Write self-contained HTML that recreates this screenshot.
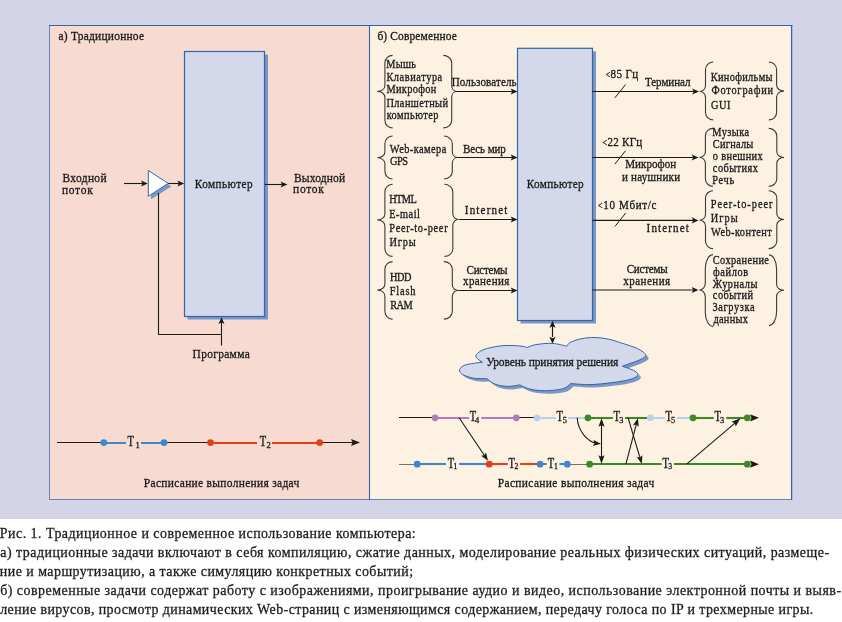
<!DOCTYPE html>
<html><head><meta charset="utf-8"><style>
html,body{margin:0;padding:0;background:#fff;}
svg{display:block;will-change:transform;}
text{font-family:"Liberation Serif",serif;}
</style></head><body>
<svg width="842" height="622" viewBox="0 0 842 622">
<rect x="0" y="0" width="842" height="519" fill="#d3d4e7"/>
<rect x="0" y="519" width="842" height="103" fill="#ffffff"/>
<rect x="49.5" y="25.5" width="320" height="474" fill="#f7dbd0"/>
<rect x="369.5" y="25.5" width="422" height="474" fill="#fdf2e1"/>
<line x1="49.5" y1="25" x2="49.5" y2="500" stroke="#6a84b4" stroke-width="1"/>
<line x1="49" y1="499.5" x2="792" y2="499.5" stroke="#6a84b4" stroke-width="1"/>
<line x1="49" y1="25.5" x2="792.5" y2="25.5" stroke="#3167a6" stroke-width="1.1"/>
<line x1="369.5" y1="25" x2="369.5" y2="500" stroke="#3167a6" stroke-width="1.1"/>
<line x1="791.6" y1="25" x2="791.6" y2="500" stroke="#3167a6" stroke-width="1.3"/>
<text id="t0" transform="scale(0.85,1)" x="68.84" y="39.8" font-size="13.5" fill="#1a1a1a" stroke="#1a1a1a" stroke-width="0.32" textLength="100.66" lengthAdjust="spacing" text-anchor="start">а) Традиционное</text>
<rect x="187.5" y="54.5" width="80.5" height="265" fill="#7b97c6"/>
<rect x="184.5" y="51.5" width="80" height="265" fill="#d3d8eb" stroke="#3167a6" stroke-width="1.2"/>
<text id="t1" transform="scale(0.85,1)" x="229.22" y="187.8" font-size="13.2" fill="#1a1a1a" stroke="#1a1a1a" stroke-width="0.32" textLength="67.99" lengthAdjust="spacing" text-anchor="start">Компьютер</text>
<text id="t2" transform="scale(0.85,1)" x="73.55" y="182" font-size="13.5" fill="#1a1a1a" stroke="#1a1a1a" stroke-width="0.32" textLength="51.85" lengthAdjust="spacing" text-anchor="start">Входной</text>
<text id="t3" transform="scale(0.85,1)" x="72.81" y="194" font-size="13.5" fill="#1a1a1a" stroke="#1a1a1a" stroke-width="0.32" textLength="36.26" lengthAdjust="spacing" text-anchor="start">поток</text>
<text id="t4" transform="scale(0.85,1)" x="345.82" y="181.6" font-size="13.5" fill="#1a1a1a" stroke="#1a1a1a" stroke-width="0.32" textLength="60.29" lengthAdjust="spacing" text-anchor="start">Выходной</text>
<text id="t5" transform="scale(0.85,1)" x="344.80" y="193.5" font-size="13.5" fill="#1a1a1a" stroke="#1a1a1a" stroke-width="0.32" textLength="36.06" lengthAdjust="spacing" text-anchor="start">поток</text>
<line x1="124" y1="183.5" x2="143.72" y2="183.5" stroke="#1a1a1a" stroke-width="1.1"/>
<path d="M147.80,183.50 L141.00,186.60 L142.50,183.50 L141.00,180.40 Z" fill="#1a1a1a"/>
<path d="M151,173.3 L171.4,186.4 L151,199.2 Z" fill="#7b97c6"/>
<path d="M148.3,170.4 L168.2,183.4 L148.3,196.3 Z" fill="#ffffff" stroke="#3167a6" stroke-width="1"/>
<line x1="168.2" y1="183.5" x2="180.11999999999998" y2="183.5" stroke="#1a1a1a" stroke-width="1.1"/>
<path d="M184.20,183.50 L177.40,186.60 L178.90,183.50 L177.40,180.40 Z" fill="#1a1a1a"/>
<line x1="265" y1="184.5" x2="283.32" y2="184.5" stroke="#1a1a1a" stroke-width="1.1"/>
<path d="M287.40,184.50 L280.60,187.60 L282.10,184.50 L280.60,181.40 Z" fill="#1a1a1a"/>
<line x1="158.5" y1="193" x2="158.5" y2="335" stroke="#1a1a1a" stroke-width="1.1"/>
<line x1="158" y1="334.5" x2="222" y2="334.5" stroke="#1a1a1a" stroke-width="1.1"/>
<line x1="221.5" y1="345.5" x2="221.5" y2="322" stroke="#1a1a1a" stroke-width="1.1"/>
<path d="M221.50,317.30 L224.50,324.10 L221.50,322.60 L218.50,324.10 Z" fill="#1a1a1a"/>
<text id="t6" transform="scale(0.85,1)" x="226.54" y="357.8" font-size="13.5" fill="#1a1a1a" stroke="#1a1a1a" stroke-width="0.32" textLength="67.26" lengthAdjust="spacing" text-anchor="start">Программа</text>
<line x1="57" y1="442.5" x2="104" y2="442.5" stroke="#1a1a1a" stroke-width="1.05"/>
<line x1="104" y1="443" x2="126" y2="443" stroke="#3f87c9" stroke-width="2"/>
<line x1="141" y1="443" x2="164" y2="443" stroke="#3f87c9" stroke-width="2"/>
<line x1="164" y1="442.5" x2="210.5" y2="442.5" stroke="#1a1a1a" stroke-width="1.05"/>
<line x1="210.5" y1="443" x2="257" y2="443" stroke="#e2401d" stroke-width="2"/>
<line x1="272.1" y1="443" x2="319.7" y2="443" stroke="#e2401d" stroke-width="2"/>
<line x1="319.7" y1="442.5" x2="353" y2="442.5" stroke="#1a1a1a" stroke-width="1.05"/>
<path d="M360.00,442.50 L351.00,445.90 L352.50,442.50 L351.00,439.10 Z" fill="#1a1a1a"/>
<circle cx="103.8" cy="442.6" r="3.4" fill="#3f87c9"/>
<circle cx="164" cy="442.6" r="3.4" fill="#3f87c9"/>
<circle cx="210.5" cy="442.6" r="3.4" fill="#e2401d"/>
<circle cx="319.7" cy="442.6" r="3.4" fill="#e2401d"/>
<text x="127.60000000000001" y="445.9" font-size="13.6" fill="#1a1a1a" stroke="#1a1a1a" stroke-width="0.4" textLength="6.4" lengthAdjust="spacingAndGlyphs">T</text><text x="135.4" y="448" font-size="8.6" fill="#1a1a1a" stroke="#1a1a1a" stroke-width="0.3">1</text>
<text x="259.7" y="445.9" font-size="13.6" fill="#1a1a1a" stroke="#1a1a1a" stroke-width="0.4" textLength="6.4" lengthAdjust="spacingAndGlyphs">T</text><text x="266.6" y="448" font-size="8.6" fill="#1a1a1a" stroke="#1a1a1a" stroke-width="0.3">2</text>
<text id="t7" transform="scale(0.85,1)" x="169.22" y="487.1" font-size="13.5" fill="#1a1a1a" stroke="#1a1a1a" stroke-width="0.32" textLength="182.92" lengthAdjust="spacing" text-anchor="start">Расписание выполнения задач</text>
<text id="t8" transform="scale(0.85,1)" x="444.01" y="39.8" font-size="13.5" fill="#1a1a1a" stroke="#1a1a1a" stroke-width="0.32" textLength="93.42" lengthAdjust="spacing" text-anchor="start">б) Современное</text>
<rect x="520.5" y="51.3" width="75.5" height="272.2" fill="#7b97c6"/>
<rect x="517.5" y="48.3" width="75" height="272.2" fill="#d3d8eb" stroke="#3167a6" stroke-width="1.2"/>
<text id="t9" transform="scale(0.85,1)" x="619.69" y="187.8" font-size="13.2" fill="#1a1a1a" stroke="#1a1a1a" stroke-width="0.32" textLength="66.93" lengthAdjust="spacing" text-anchor="start">Компьютер</text>
<path d="M392.59999999999997,55.4 C388.75,55.4 384.9,58.40 384.9,62.9 L384.9,85.4 C384.9,89.30 381.15,91.4 377.4,91.4 C381.15,91.4 384.9,93.50 384.9,97.4 L384.9,120.4 C384.9,124.90 388.75,127.9 392.59999999999997,127.9" fill="none" stroke="#3a3a3a" stroke-width="1.1"/>
<path d="M443.3,55.4 C447.50,55.4 451.7,58.40 451.7,62.9 L451.7,85.5 C451.7,89.40 454.25,91.5 456.8,91.5 C454.25,91.5 451.7,93.60 451.7,97.5 L451.7,120.4 C451.7,124.90 447.50,127.9 443.3,127.9" fill="none" stroke="#3a3a3a" stroke-width="1.1"/>
<text id="t10" transform="scale(0.85,1)" x="454.46" y="67.6" font-size="12.2" fill="#1a1a1a" stroke="#1a1a1a" stroke-width="0.32" textLength="34.91" lengthAdjust="spacing" text-anchor="start">Мышь</text>
<text id="t11" transform="scale(0.85,1)" x="454.60" y="80.6" font-size="12.2" fill="#1a1a1a" stroke="#1a1a1a" stroke-width="0.32" textLength="65.67" lengthAdjust="spacing" text-anchor="start">Клавиатура</text>
<text id="t12" transform="scale(0.85,1)" x="454.62" y="93.5" font-size="12.2" fill="#1a1a1a" stroke="#1a1a1a" stroke-width="0.32" textLength="58.75" lengthAdjust="spacing" text-anchor="start">Микрофон</text>
<text id="t13" transform="scale(0.85,1)" x="454.59" y="106.8" font-size="12.2" fill="#1a1a1a" stroke="#1a1a1a" stroke-width="0.32" textLength="72.53" lengthAdjust="spacing" text-anchor="start">Планшетный</text>
<text id="t14" transform="scale(0.85,1)" x="454.94" y="118.6" font-size="12.2" fill="#1a1a1a" stroke="#1a1a1a" stroke-width="0.32" textLength="60.81" lengthAdjust="spacing" text-anchor="start">компьютер</text>
<text id="t15" transform="scale(0.85,1)" x="531.51" y="85.7" font-size="13" fill="#1a1a1a" stroke="#1a1a1a" stroke-width="0.32" textLength="76.24" lengthAdjust="spacing" text-anchor="start">Пользователь</text>
<line x1="456" y1="91.5" x2="513.42" y2="91.5" stroke="#1a1a1a" stroke-width="1.05"/>
<path d="M517.50,91.50 L510.70,94.60 L512.20,91.50 L510.70,88.40 Z" fill="#1a1a1a"/>
<path d="M392.59999999999997,136 C388.75,136 384.9,139.00 384.9,143.5 L384.9,151.8 C384.9,155.70 381.15,157.8 377.4,157.8 C381.15,157.8 384.9,159.90 384.9,163.8 L384.9,171.5 C384.9,176.00 388.75,179 392.59999999999997,179" fill="none" stroke="#3a3a3a" stroke-width="1.1"/>
<path d="M443.90000000000003,136 C448.10,136 452.3,139.00 452.3,143.5 L452.3,151.5 C452.3,155.40 454.90,157.5 457.5,157.5 C454.90,157.5 452.3,159.60 452.3,163.5 L452.3,171.5 C452.3,176.00 448.10,179 443.90000000000003,179" fill="none" stroke="#3a3a3a" stroke-width="1.1"/>
<text id="t16" transform="scale(0.85,1)" x="458.66" y="153.5" font-size="12.2" fill="#1a1a1a" stroke="#1a1a1a" stroke-width="0.32" textLength="66.36" lengthAdjust="spacing" text-anchor="start">Web-камера</text>
<text id="t17" transform="scale(0.85,1)" x="458.74" y="165.3" font-size="12.2" fill="#1a1a1a" stroke="#1a1a1a" stroke-width="0.32" textLength="21.34" lengthAdjust="spacing" text-anchor="start">GPS</text>
<text id="t18" transform="scale(0.85,1)" x="544.73" y="152.8" font-size="13" fill="#1a1a1a" stroke="#1a1a1a" stroke-width="0.32" textLength="50.39" lengthAdjust="spacing" text-anchor="start">Весь мир</text>
<line x1="457.3" y1="157.5" x2="513.42" y2="157.5" stroke="#1a1a1a" stroke-width="1.05"/>
<path d="M517.50,157.50 L510.70,160.60 L512.20,157.50 L510.70,154.40 Z" fill="#1a1a1a"/>
<path d="M392.59999999999997,184.3 C388.75,184.3 384.9,187.30 384.9,191.8 L384.9,213.9 C384.9,217.80 381.15,219.9 377.4,219.9 C381.15,219.9 384.9,222.00 384.9,225.9 L384.9,248.89999999999998 C384.9,253.40 388.75,256.4 392.59999999999997,256.4" fill="none" stroke="#3a3a3a" stroke-width="1.1"/>
<path d="M444.40000000000003,184.3 C448.60,184.3 452.8,187.30 452.8,191.8 L452.8,213.5 C452.8,217.40 455.65,219.5 458.5,219.5 C455.65,219.5 452.8,221.60 452.8,225.5 L452.8,248.89999999999998 C452.8,253.40 448.60,256.4 444.40000000000003,256.4" fill="none" stroke="#3a3a3a" stroke-width="1.1"/>
<text id="t19" transform="scale(0.85,1)" x="457.99" y="203.5" font-size="12.2" fill="#1a1a1a" stroke="#1a1a1a" stroke-width="0.32" textLength="32.28" lengthAdjust="spacing" text-anchor="start">HTML</text>
<text id="t20" transform="scale(0.85,1)" x="457.99" y="217.7" font-size="12.2" fill="#1a1a1a" stroke="#1a1a1a" stroke-width="0.32" textLength="36.01" lengthAdjust="spacing" text-anchor="start">E-mail</text>
<text id="t21" transform="scale(0.85,1)" x="457.99" y="231.6" font-size="12.2" fill="#1a1a1a" stroke="#1a1a1a" stroke-width="0.32" textLength="68.60" lengthAdjust="spacing" text-anchor="start">Peer-to-peer</text>
<text id="t22" transform="scale(0.85,1)" x="458.14" y="245.6" font-size="12.2" fill="#1a1a1a" stroke="#1a1a1a" stroke-width="0.32" textLength="31.05" lengthAdjust="spacing" text-anchor="start">Игры</text>
<text id="t23" transform="scale(0.85,1)" x="546.81" y="214.5" font-size="13" fill="#1a1a1a" stroke="#1a1a1a" stroke-width="0.32" textLength="50.16" lengthAdjust="spacing" text-anchor="start">Internet</text>
<line x1="459" y1="219.5" x2="513.42" y2="219.5" stroke="#1a1a1a" stroke-width="1.05"/>
<path d="M517.50,219.50 L510.70,222.60 L512.20,219.50 L510.70,216.40 Z" fill="#1a1a1a"/>
<path d="M392.59999999999997,261.6 C388.75,261.6 384.9,264.60 384.9,269.1 L384.9,284.1 C384.9,288.00 381.15,290.1 377.4,290.1 C381.15,290.1 384.9,292.20 384.9,296.1 L384.9,311.6 C384.9,316.10 388.75,319.1 392.59999999999997,319.1" fill="none" stroke="#3a3a3a" stroke-width="1.1"/>
<path d="M443.90000000000003,261.6 C448.10,261.6 452.3,264.60 452.3,269.1 L452.3,284.5 C452.3,288.40 455.25,290.5 458.2,290.5 C455.25,290.5 452.3,292.60 452.3,296.5 L452.3,311.6 C452.3,316.10 448.10,319.1 443.90000000000003,319.1" fill="none" stroke="#3a3a3a" stroke-width="1.1"/>
<text id="t24" transform="scale(0.85,1)" x="458.85" y="280.7" font-size="12.2" fill="#1a1a1a" stroke="#1a1a1a" stroke-width="0.32" textLength="25.26" lengthAdjust="spacing" text-anchor="start">HDD</text>
<text id="t25" transform="scale(0.85,1)" x="458.61" y="294.6" font-size="12.2" fill="#1a1a1a" stroke="#1a1a1a" stroke-width="0.32" textLength="30.15" lengthAdjust="spacing" text-anchor="start">Flash</text>
<text id="t26" transform="scale(0.85,1)" x="459.05" y="308.7" font-size="12.2" fill="#1a1a1a" stroke="#1a1a1a" stroke-width="0.32" textLength="26.56" lengthAdjust="spacing" text-anchor="start">RAM</text>
<text id="t27" transform="scale(0.85,1)" x="548.85" y="273.7" font-size="13" fill="#1a1a1a" stroke="#1a1a1a" stroke-width="0.32" textLength="48.13" lengthAdjust="spacing" text-anchor="start">Системы</text>
<text id="t28" transform="scale(0.85,1)" x="544.68" y="285.3" font-size="13" fill="#1a1a1a" stroke="#1a1a1a" stroke-width="0.32" textLength="54.51" lengthAdjust="spacing" text-anchor="start">хранения</text>
<line x1="458.2" y1="290.5" x2="513.42" y2="290.5" stroke="#1a1a1a" stroke-width="1.05"/>
<path d="M517.50,290.50 L510.70,293.60 L512.20,290.50 L510.70,287.40 Z" fill="#1a1a1a"/>
<line x1="592.5" y1="91.5" x2="694.92" y2="91.5" stroke="#1a1a1a" stroke-width="1.05"/>
<path d="M699.00,91.50 L692.20,94.60 L693.70,91.50 L692.20,88.40 Z" fill="#1a1a1a"/>
<line x1="614.9" y1="97.8" x2="625.6" y2="84.5" stroke="#1a1a1a" stroke-width="1"/>
<text id="t29" transform="scale(0.85,1)" x="712.61" y="78.5" font-size="13" fill="#1a1a1a" stroke="#1a1a1a" stroke-width="0.32" textLength="38.07" lengthAdjust="spacing" text-anchor="start"><tspan font-size="9.5">&lt;</tspan>85 Гц</text>
<text id="t30" transform="scale(0.85,1)" x="758.81" y="85.7" font-size="13" fill="#1a1a1a" stroke="#1a1a1a" stroke-width="0.32" textLength="53.61" lengthAdjust="spacing" text-anchor="start">Терминал</text>
<line x1="592.5" y1="157.5" x2="694.42" y2="157.5" stroke="#1a1a1a" stroke-width="1.05"/>
<path d="M698.50,157.50 L691.70,160.60 L693.20,157.50 L691.70,154.40 Z" fill="#1a1a1a"/>
<line x1="614.9" y1="164.0" x2="625.6" y2="150.7" stroke="#1a1a1a" stroke-width="1"/>
<text id="t31" transform="scale(0.85,1)" x="708.94" y="145.9" font-size="13" fill="#1a1a1a" stroke="#1a1a1a" stroke-width="0.32" textLength="46.64" lengthAdjust="spacing" text-anchor="start"><tspan font-size="9.5">&lt;</tspan>22 КГц</text>
<text id="t32" transform="scale(0.85,1)" x="735.60" y="168.5" font-size="13" fill="#1a1a1a" stroke="#1a1a1a" stroke-width="0.32" textLength="59.82" lengthAdjust="spacing" text-anchor="start">Микрофон</text>
<text id="t33" transform="scale(0.85,1)" x="731.66" y="180.6" font-size="13" fill="#1a1a1a" stroke="#1a1a1a" stroke-width="0.32" textLength="68.42" lengthAdjust="spacing" text-anchor="start">и наушники</text>
<line x1="592.5" y1="220.4" x2="694.42" y2="220.4" stroke="#1a1a1a" stroke-width="1.1"/>
<path d="M698.50,220.40 L691.70,223.50 L693.20,220.40 L691.70,217.30 Z" fill="#1a1a1a"/>
<line x1="614.9" y1="226.5" x2="625.6" y2="213.2" stroke="#1a1a1a" stroke-width="1"/>
<text id="t34" transform="scale(0.85,1)" x="703.60" y="209.5" font-size="13" fill="#1a1a1a" stroke="#1a1a1a" stroke-width="0.32" textLength="68.65" lengthAdjust="spacing" text-anchor="start"><tspan font-size="9.5">&lt;</tspan>10 Мбит/с</text>
<text id="t35" transform="scale(0.85,1)" x="760.71" y="232.5" font-size="13" fill="#1a1a1a" stroke="#1a1a1a" stroke-width="0.32" textLength="49.74" lengthAdjust="spacing" text-anchor="start">Internet</text>
<line x1="592.5" y1="290" x2="694.42" y2="290.0" stroke="#1a1a1a" stroke-width="1.05"/>
<path d="M698.50,290.00 L691.70,293.10 L693.20,290.00 L691.70,286.90 Z" fill="#1a1a1a"/>
<text id="t36" transform="scale(0.85,1)" x="737.31" y="272.8" font-size="13" fill="#1a1a1a" stroke="#1a1a1a" stroke-width="0.32" textLength="48.09" lengthAdjust="spacing" text-anchor="start">Системы</text>
<text id="t37" transform="scale(0.85,1)" x="733.25" y="284.6" font-size="13" fill="#1a1a1a" stroke="#1a1a1a" stroke-width="0.32" textLength="55.16" lengthAdjust="spacing" text-anchor="start">хранения</text>
<path d="M713.2,62 C709.35,62 705.5,65.00 705.5,69.5 L705.5,85.5 C705.5,89.40 702.60,91.5 699.7,91.5 C702.60,91.5 705.5,93.60 705.5,97.5 L705.5,112.4 C705.5,116.90 709.35,119.9 713.2,119.9" fill="none" stroke="#3a3a3a" stroke-width="1.1"/>
<path d="M768.8,62 C772.70,62 776.6,65.00 776.6,69.5 L776.6,85.1 C776.6,89.00 780.30,91.1 784,91.1 C780.30,91.1 776.6,93.20 776.6,97.1 L776.6,112.4 C776.6,116.90 772.70,119.9 768.8,119.9" fill="none" stroke="#3a3a3a" stroke-width="1.1"/>
<text id="t38" transform="scale(0.85,1)" x="836.13" y="80.6" font-size="12.2" fill="#1a1a1a" stroke="#1a1a1a" stroke-width="0.32" textLength="72.71" lengthAdjust="spacing" text-anchor="start">Кинофильмы</text>
<text id="t39" transform="scale(0.85,1)" x="836.98" y="94.4" font-size="12.2" fill="#1a1a1a" stroke="#1a1a1a" stroke-width="0.32" textLength="72.56" lengthAdjust="spacing" text-anchor="start">Фотографии</text>
<text id="t40" transform="scale(0.85,1)" x="836.61" y="109.1" font-size="12.2" fill="#1a1a1a" stroke="#1a1a1a" stroke-width="0.32" textLength="22.68" lengthAdjust="spacing" text-anchor="start">GUI</text>
<path d="M713,128.4 C709.20,128.4 705.4,131.40 705.4,135.9 L705.4,151.5 C705.4,155.40 702.45,157.5 699.5,157.5 C702.45,157.5 705.4,159.60 705.4,163.5 L705.4,178.8 C705.4,183.30 709.20,186.3 713,186.3" fill="none" stroke="#3a3a3a" stroke-width="1.1"/>
<path d="M768.7,128.4 C772.75,128.4 776.8,131.40 776.8,135.9 L776.8,151.5 C776.8,155.40 780.40,157.5 784,157.5 C780.40,157.5 776.8,159.60 776.8,163.5 L776.8,178.8 C776.8,183.30 772.75,186.3 768.7,186.3" fill="none" stroke="#3a3a3a" stroke-width="1.1"/>
<text id="t41" transform="scale(0.85,1)" x="838.05" y="136.5" font-size="12.2" fill="#1a1a1a" stroke="#1a1a1a" stroke-width="0.32" textLength="43.15" lengthAdjust="spacing" text-anchor="start">Музыка</text>
<text id="t42" transform="scale(0.85,1)" x="838.62" y="148.5" font-size="12.2" fill="#1a1a1a" stroke="#1a1a1a" stroke-width="0.32" textLength="47.66" lengthAdjust="spacing" text-anchor="start">Сигналы</text>
<text id="t43" transform="scale(0.85,1)" x="838.56" y="160.5" font-size="12.2" fill="#1a1a1a" stroke="#1a1a1a" stroke-width="0.32" textLength="58.71" lengthAdjust="spacing" text-anchor="start">о внешних</text>
<text id="t44" transform="scale(0.85,1)" x="838.64" y="172.5" font-size="12.2" fill="#1a1a1a" stroke="#1a1a1a" stroke-width="0.32" textLength="53.09" lengthAdjust="spacing" text-anchor="start">событиях</text>
<text id="t45" transform="scale(0.85,1)" x="838.02" y="184.3" font-size="12.2" fill="#1a1a1a" stroke="#1a1a1a" stroke-width="0.32" textLength="25.67" lengthAdjust="spacing" text-anchor="start">Речь</text>
<path d="M713,190.7 C709.25,190.7 705.5,193.70 705.5,198.2 L705.5,214.2 C705.5,218.10 702.55,220.2 699.6,220.2 C702.55,220.2 705.5,222.30 705.5,226.2 L705.5,241.1 C705.5,245.60 709.25,248.6 713,248.6" fill="none" stroke="#3a3a3a" stroke-width="1.1"/>
<path d="M768.7,190.7 C772.75,190.7 776.8,193.70 776.8,198.2 L776.8,213.5 C776.8,217.40 780.40,219.5 784,219.5 C780.40,219.5 776.8,221.60 776.8,225.5 L776.8,241.1 C776.8,245.60 772.75,248.6 768.7,248.6" fill="none" stroke="#3a3a3a" stroke-width="1.1"/>
<text id="t46" transform="scale(0.85,1)" x="836.26" y="208.3" font-size="12.2" fill="#1a1a1a" stroke="#1a1a1a" stroke-width="0.32" textLength="72.61" lengthAdjust="spacing" text-anchor="start">Peer-to-peer</text>
<text id="t47" transform="scale(0.85,1)" x="836.11" y="222.3" font-size="12.2" fill="#1a1a1a" stroke="#1a1a1a" stroke-width="0.32" textLength="31.79" lengthAdjust="spacing" text-anchor="start">Игры</text>
<text id="t48" transform="scale(0.85,1)" x="836.59" y="236.4" font-size="12.2" fill="#1a1a1a" stroke="#1a1a1a" stroke-width="0.32" textLength="71.49" lengthAdjust="spacing" text-anchor="start">Web-контент</text>
<path d="M713,254.6 C709.15,254.6 705.3,260.20 705.3,268.6 L705.3,283 C705.3,287.55 702.35,290 699.4,290 C702.35,290 705.3,292.45 705.3,297 L705.3,312.4 C705.3,320.80 709.15,326.4 713,326.4" fill="none" stroke="#3a3a3a" stroke-width="1.1"/>
<path d="M769,254.9 C772.80,254.9 776.6,260.50 776.6,268.9 L776.6,284.3 C776.6,288.20 780.30,290.3 784,290.3 C780.30,290.3 776.6,292.40 776.6,296.3 L776.6,311.5 C776.6,319.90 772.80,325.5 769,325.5" fill="none" stroke="#3a3a3a" stroke-width="1.1"/>
<text id="t49" transform="scale(0.85,1)" x="838.62" y="263.7" font-size="12.2" fill="#1a1a1a" stroke="#1a1a1a" stroke-width="0.32" textLength="66.06" lengthAdjust="spacing" text-anchor="start">Сохранение</text>
<text id="t50" transform="scale(0.85,1)" x="838.87" y="275.6" font-size="12.2" fill="#1a1a1a" stroke="#1a1a1a" stroke-width="0.32" textLength="41.26" lengthAdjust="spacing" text-anchor="start">файлов</text>
<text id="t51" transform="scale(0.85,1)" x="838.65" y="287.7" font-size="12.2" fill="#1a1a1a" stroke="#1a1a1a" stroke-width="0.32" textLength="52.45" lengthAdjust="spacing" text-anchor="start">Журналы</text>
<text id="t52" transform="scale(0.85,1)" x="838.65" y="299.5" font-size="12.2" fill="#1a1a1a" stroke="#1a1a1a" stroke-width="0.32" textLength="47.41" lengthAdjust="spacing" text-anchor="start">событий</text>
<text id="t53" transform="scale(0.85,1)" x="838.28" y="311.4" font-size="12.2" fill="#1a1a1a" stroke="#1a1a1a" stroke-width="0.32" textLength="49.39" lengthAdjust="spacing" text-anchor="start">Загрузка</text>
<text id="t54" transform="scale(0.85,1)" x="839.41" y="323.1" font-size="12.2" fill="#1a1a1a" stroke="#1a1a1a" stroke-width="0.32" textLength="40.38" lengthAdjust="spacing" text-anchor="start">данных</text>
<path d="M482.4,362.2 C481.30,361.20 475.58,358.30 475.8,356.2 C476.02,354.10 479.27,351.35 483.7,349.6 C488.13,347.85 496.38,346.30 502.4,345.7 C508.42,345.10 515.65,345.70 519.8,346 C523.95,346.30 526.05,347.25 527.3,347.5 C528.75,347.02 531.80,345.28 536,344.6 C540.20,343.92 547.37,343.13 552.5,343.4 C557.63,343.67 564.42,345.73 566.8,346.2 C567.42,345.55 568.10,343.53 570.5,342.3 C572.90,341.07 577.13,339.60 581.2,338.8 C585.27,338.00 590.33,337.43 594.9,337.5 C599.47,337.57 604.45,338.37 608.6,339.2 C612.75,340.03 617.93,341.95 619.8,342.5 C622.72,343.50 633.00,346.43 637.3,348.5 C641.60,350.57 645.18,353.02 645.6,354.9 C646.02,356.78 643.68,357.92 639.8,359.8 C635.92,361.68 625.22,365.13 622.3,366.2 C624.38,367.02 632.27,369.55 634.8,371.1 C637.33,372.65 638.33,374.10 637.5,375.5 C636.67,376.90 634.00,378.32 629.8,379.5 C625.60,380.68 618.93,381.75 612.3,382.6 C605.67,383.45 596.95,384.43 590,384.6 C583.05,384.77 573.83,383.77 570.6,383.6 C569.50,384.40 567.10,387.27 564,388.4 C560.90,389.53 555.95,390.03 552,390.4 C548.05,390.77 544.17,390.87 540.3,390.6 C536.43,390.33 532.22,389.75 528.8,388.8 C525.38,387.85 521.30,385.55 519.8,384.9 C517.73,385.15 511.63,386.57 507.4,386.4 C503.17,386.23 497.83,385.20 494.4,383.9 C490.97,382.60 488.07,379.48 486.8,378.6 C484.62,378.53 477.72,378.87 473.7,378.2 C469.68,377.53 465.05,375.98 462.7,374.6 C460.35,373.22 459.18,371.50 459.6,369.9 C460.02,368.30 461.40,366.28 465.2,365 C469.00,363.72 479.53,362.67 482.4,362.2 Z" transform="translate(3,3)" fill="#7b97c6"/>
<path d="M482.4,362.2 C481.30,361.20 475.58,358.30 475.8,356.2 C476.02,354.10 479.27,351.35 483.7,349.6 C488.13,347.85 496.38,346.30 502.4,345.7 C508.42,345.10 515.65,345.70 519.8,346 C523.95,346.30 526.05,347.25 527.3,347.5 C528.75,347.02 531.80,345.28 536,344.6 C540.20,343.92 547.37,343.13 552.5,343.4 C557.63,343.67 564.42,345.73 566.8,346.2 C567.42,345.55 568.10,343.53 570.5,342.3 C572.90,341.07 577.13,339.60 581.2,338.8 C585.27,338.00 590.33,337.43 594.9,337.5 C599.47,337.57 604.45,338.37 608.6,339.2 C612.75,340.03 617.93,341.95 619.8,342.5 C622.72,343.50 633.00,346.43 637.3,348.5 C641.60,350.57 645.18,353.02 645.6,354.9 C646.02,356.78 643.68,357.92 639.8,359.8 C635.92,361.68 625.22,365.13 622.3,366.2 C624.38,367.02 632.27,369.55 634.8,371.1 C637.33,372.65 638.33,374.10 637.5,375.5 C636.67,376.90 634.00,378.32 629.8,379.5 C625.60,380.68 618.93,381.75 612.3,382.6 C605.67,383.45 596.95,384.43 590,384.6 C583.05,384.77 573.83,383.77 570.6,383.6 C569.50,384.40 567.10,387.27 564,388.4 C560.90,389.53 555.95,390.03 552,390.4 C548.05,390.77 544.17,390.87 540.3,390.6 C536.43,390.33 532.22,389.75 528.8,388.8 C525.38,387.85 521.30,385.55 519.8,384.9 C517.73,385.15 511.63,386.57 507.4,386.4 C503.17,386.23 497.83,385.20 494.4,383.9 C490.97,382.60 488.07,379.48 486.8,378.6 C484.62,378.53 477.72,378.87 473.7,378.2 C469.68,377.53 465.05,375.98 462.7,374.6 C460.35,373.22 459.18,371.50 459.6,369.9 C460.02,368.30 461.40,366.28 465.2,365 C469.00,363.72 479.53,362.67 482.4,362.2 Z" fill="#d3d8eb" stroke="#3167a6" stroke-width="1"/>
<text id="t55" transform="scale(0.85,1)" x="572.04" y="365.6" font-size="13.5" fill="#1a1a1a" stroke="#1a1a1a" stroke-width="0.32" textLength="155.28" lengthAdjust="spacing" text-anchor="start">Уровень принятия решения</text>
<line x1="552.5" y1="326" x2="552.5" y2="337" stroke="#1a1a1a" stroke-width="1.2"/>
<path d="M552.50,320.80 L555.60,327.80 L552.50,326.30 L549.40,327.80 Z" fill="#1a1a1a"/>
<path d="M552.50,343.70 L549.40,336.70 L552.50,338.20 L555.60,336.70 Z" fill="#1a1a1a"/>
<line x1="399" y1="417.5" x2="435" y2="417.5" stroke="#1a1a1a" stroke-width="1.05"/>
<line x1="435" y1="418" x2="469.1" y2="418" stroke="#b07cbf" stroke-width="2.1"/>
<line x1="481.3" y1="418" x2="516.3" y2="418" stroke="#b07cbf" stroke-width="2.1"/>
<line x1="516.3" y1="417.5" x2="537" y2="417.5" stroke="#1a1a1a" stroke-width="1.05"/>
<line x1="537" y1="418" x2="555.9" y2="418" stroke="#b4d2ea" stroke-width="2.1"/>
<line x1="568.1" y1="418" x2="588" y2="418" stroke="#b4d2ea" stroke-width="2.1"/>
<line x1="588" y1="418" x2="612.9" y2="418" stroke="#3b8a25" stroke-width="2.1"/>
<line x1="625" y1="418" x2="650.3" y2="418" stroke="#3b8a25" stroke-width="2.1"/>
<line x1="650.3" y1="418" x2="665" y2="418" stroke="#b4d2ea" stroke-width="2.1"/>
<line x1="677" y1="418" x2="693" y2="418" stroke="#b4d2ea" stroke-width="2.1"/>
<line x1="693" y1="418" x2="713.7" y2="418" stroke="#3b8a25" stroke-width="2.1"/>
<line x1="726.3" y1="418" x2="747.3" y2="418" stroke="#3b8a25" stroke-width="2.1"/>
<circle cx="435.1" cy="417.8" r="3.4" fill="#b07cbf"/>
<circle cx="516.3" cy="417.8" r="3.4" fill="#b07cbf"/>
<circle cx="537" cy="417.8" r="3.4" fill="#b4d2ea"/>
<circle cx="588" cy="417.8" r="3.4" fill="#3b8a25"/>
<circle cx="650.3" cy="417.8" r="3.4" fill="#b4d2ea"/>
<circle cx="693" cy="417.8" r="3.4" fill="#3b8a25"/>
<circle cx="747.3" cy="417.8" r="3.4" fill="#3b8a25"/>
<path d="M759.00,417.80 L750.00,421.40 L751.50,417.80 L750.00,414.20 Z" fill="#1a1a1a"/>
<line x1="399" y1="464.5" x2="417.2" y2="464.5" stroke="#777068" stroke-width="1.05"/>
<line x1="417.2" y1="464" x2="445.9" y2="464" stroke="#3f87c9" stroke-width="2.1"/>
<line x1="459.1" y1="464" x2="489.2" y2="464" stroke="#3f87c9" stroke-width="2.1"/>
<line x1="489.2" y1="464" x2="507.8" y2="464" stroke="#e2401d" stroke-width="2.1"/>
<line x1="520.1" y1="464" x2="540.1" y2="464" stroke="#e2401d" stroke-width="2.1"/>
<line x1="540.1" y1="464" x2="546.7" y2="464" stroke="#3f87c9" stroke-width="2.1"/>
<line x1="559.4" y1="464" x2="567.3" y2="464" stroke="#3f87c9" stroke-width="2.1"/>
<line x1="567.3" y1="464.5" x2="589.6" y2="464.5" stroke="#777068" stroke-width="1.05"/>
<line x1="589.6" y1="464" x2="661.7" y2="464" stroke="#3b8a25" stroke-width="2.1"/>
<line x1="674" y1="464" x2="747.3" y2="464" stroke="#3b8a25" stroke-width="2.1"/>
<circle cx="417.2" cy="464.2" r="3.4" fill="#3f87c9"/>
<circle cx="489.2" cy="464.2" r="3.4" fill="#e2401d"/>
<circle cx="540.1" cy="464.2" r="3.4" fill="#3f87c9"/>
<circle cx="567.3" cy="464.2" r="3.4" fill="#3f87c9"/>
<circle cx="589.6" cy="464.2" r="3.4" fill="#3b8a25"/>
<circle cx="747.3" cy="464.2" r="3.4" fill="#3b8a25"/>
<path d="M759.00,464.20 L750.00,467.80 L751.50,464.20 L750.00,460.60 Z" fill="#1a1a1a"/>
<text x="469.7" y="421.1" font-size="13.6" fill="#1a1a1a" stroke="#1a1a1a" stroke-width="0.4" textLength="6.4" lengthAdjust="spacingAndGlyphs">T</text><text x="475.1" y="422.6" font-size="8.4" fill="#1a1a1a" stroke="#1a1a1a" stroke-width="0.3">4</text>
<text x="556.5" y="421.1" font-size="13.6" fill="#1a1a1a" stroke="#1a1a1a" stroke-width="0.4" textLength="6.4" lengthAdjust="spacingAndGlyphs">T</text><text x="562.8" y="422.6" font-size="8.4" fill="#1a1a1a" stroke="#1a1a1a" stroke-width="0.3">5</text>
<text x="613.5" y="421.1" font-size="13.6" fill="#1a1a1a" stroke="#1a1a1a" stroke-width="0.4" textLength="6.4" lengthAdjust="spacingAndGlyphs">T</text><text x="619.3" y="422.6" font-size="8.4" fill="#1a1a1a" stroke="#1a1a1a" stroke-width="0.3">3</text>
<text x="665.6" y="421.1" font-size="13.6" fill="#1a1a1a" stroke="#1a1a1a" stroke-width="0.4" textLength="6.4" lengthAdjust="spacingAndGlyphs">T</text><text x="671.1" y="422.6" font-size="8.4" fill="#1a1a1a" stroke="#1a1a1a" stroke-width="0.3">5</text>
<text x="714.6" y="421.1" font-size="13.6" fill="#1a1a1a" stroke="#1a1a1a" stroke-width="0.4" textLength="6.4" lengthAdjust="spacingAndGlyphs">T</text><text x="720.1" y="422.6" font-size="8.4" fill="#1a1a1a" stroke="#1a1a1a" stroke-width="0.3">3</text>
<text x="447.7" y="467.9" font-size="13.6" fill="#1a1a1a" stroke="#1a1a1a" stroke-width="0.4" textLength="6.4" lengthAdjust="spacingAndGlyphs">T</text><text x="453.4" y="468.6" font-size="7.6" fill="#1a1a1a" stroke="#1a1a1a" stroke-width="0.3">1</text>
<text x="508.4" y="467.9" font-size="13.6" fill="#1a1a1a" stroke="#1a1a1a" stroke-width="0.4" textLength="6.4" lengthAdjust="spacingAndGlyphs">T</text><text x="514.5" y="468.6" font-size="7.6" fill="#1a1a1a" stroke="#1a1a1a" stroke-width="0.3">2</text>
<text x="547.7" y="467.9" font-size="13.6" fill="#1a1a1a" stroke="#1a1a1a" stroke-width="0.4" textLength="6.4" lengthAdjust="spacingAndGlyphs">T</text><text x="554.1" y="468.6" font-size="7.6" fill="#1a1a1a" stroke="#1a1a1a" stroke-width="0.3">1</text>
<text x="662.5" y="467.9" font-size="13.6" fill="#1a1a1a" stroke="#1a1a1a" stroke-width="0.4" textLength="6.4" lengthAdjust="spacingAndGlyphs">T</text><text x="668.2" y="468.6" font-size="7.6" fill="#1a1a1a" stroke="#1a1a1a" stroke-width="0.3">3</text>
<line x1="459.1" y1="417.8" x2="485.31819705516415" y2="456.71905376008795" stroke="#1a1a1a" stroke-width="1.1"/>
<path d="M488.00,460.70 L481.04,455.74 L484.37,455.31 L486.02,452.39 Z" fill="#1a1a1a"/>
<path d="M577.2,417.8 C578,432 588,441 596,443.5" fill="none" stroke="#1a1a1a" stroke-width="1.1"/>
<path d="M601.00,443.80 L592.74,445.99 L594.53,443.15 L593.34,440.02 Z" fill="#1a1a1a"/>
<line x1="601.5" y1="423.8" x2="601.5" y2="458.2" stroke="#1a1a1a" stroke-width="1.1"/>
<path d="M601.50,418.30 L604.50,426.80 L601.50,425.30 L598.50,426.80 Z" fill="#1a1a1a"/>
<path d="M601.50,463.70 L598.50,455.20 L601.50,456.70 L604.50,455.20 Z" fill="#1a1a1a"/>
<line x1="628.1" y1="417.8" x2="640.427166799695" y2="459.1005077449635" stroke="#1a1a1a" stroke-width="1.1"/>
<path d="M641.80,463.70 L636.64,456.89 L639.94,457.47 L642.39,455.18 Z" fill="#1a1a1a"/>
<line x1="625.9" y1="464.2" x2="636.6859038961292" y2="422.94391759730576" stroke="#1a1a1a" stroke-width="1.1"/>
<path d="M637.90,418.30 L638.78,426.80 L636.26,424.59 L632.97,425.28 Z" fill="#1a1a1a"/>
<line x1="686.7" y1="464.2" x2="736.3919402339742" y2="421.80483165911863" stroke="#1a1a1a" stroke-width="1.1"/>
<path d="M740.50,418.30 L735.73,426.58 L734.79,423.17 L731.58,421.71 Z" fill="#1a1a1a"/>
<text id="t56" transform="scale(0.85,1)" x="585.55" y="487.1" font-size="13.5" fill="#1a1a1a" stroke="#1a1a1a" stroke-width="0.32" textLength="184.16" lengthAdjust="spacing" text-anchor="start">Расписание выполнения задач</text>
<text id="t57" transform="scale(0.9,1)" x="-0.17" y="537.9" font-size="15.5" fill="#1c1c1c" stroke="#1c1c1c" stroke-width="0.3" textLength="462.04" lengthAdjust="spacing" text-anchor="start">Рис. 1. Традиционное и современное использование компьютера:</text>
<text id="t58" transform="scale(0.9,1)" x="0.36" y="557.3" font-size="15.5" fill="#1c1c1c" stroke="#1c1c1c" stroke-width="0.3" textLength="920.83" lengthAdjust="spacing" text-anchor="start">а) традиционные задачи включают в себя компиляцию, сжатие данных, моделирование реальных физических ситуаций, размеще-</text>
<text id="t59" transform="scale(0.9,1)" x="-0.18" y="575.7" font-size="15.5" fill="#1c1c1c" stroke="#1c1c1c" stroke-width="0.3" textLength="459.09" lengthAdjust="spacing" text-anchor="start">ние и маршрутизацию, а также симуляцию конкретных событий;</text>
<text id="t60" transform="scale(0.9,1)" x="0.17" y="595" font-size="15.5" fill="#1c1c1c" stroke="#1c1c1c" stroke-width="0.3" textLength="934.40" lengthAdjust="spacing" text-anchor="start">б) современные задачи содержат работу с изображениями, проигрывание аудио и видео, использование электронной почты и выяв-</text>
<text id="t61" transform="scale(0.9,1)" x="0.23" y="613.7" font-size="15.5" fill="#1c1c1c" stroke="#1c1c1c" stroke-width="0.3" textLength="903.42" lengthAdjust="spacing" text-anchor="start">ление вирусов, просмотр динамических Web-страниц с изменяющимся содержанием, передачу голоса по IP и трехмерные игры.</text>
</svg>
</body></html>
